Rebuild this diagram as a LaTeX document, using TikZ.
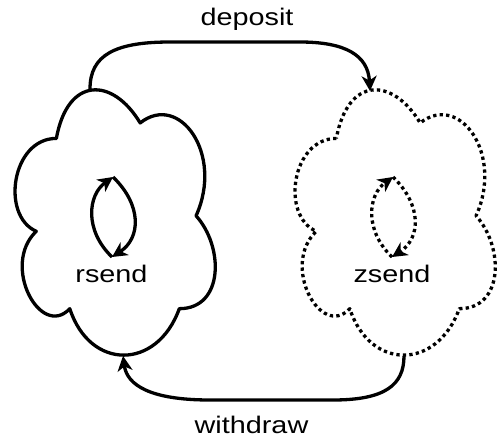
\documentclass[tikz,border=0pt]{standalone}
\usepackage{fontspec}
\setmainfont{Liberation Sans}
\usetikzlibrary{arrows.meta}
\tikzset{
  stroke/.style={line width=3.3pt, line join=round},
  dotline/.style={stroke, dash pattern=on 3.3pt off 3.2pt},
  tip/.style={-{Stealth[length=15pt,width=15pt,inset=4.5pt]}},
  lbl/.style={inner sep=0pt, anchor=base, font=\fontsize{24}{28}\selectfont},
  cloudbox/.style={x=223.5pt, y={(0pt,-309.6pt)}}
}
\newcommand\cloudshape{(0.25,0.25) .. controls (0.05,0.25) and (0,0.5) .. (0.16,0.55)
  .. controls (0,0.66) and (0.18,0.9) .. (0.31,0.8)
  .. controls (0.4,1) and (0.7,1) .. (0.8,0.8)
  .. controls (1,0.8) and (1,0.6) .. (0.875,0.5)
  .. controls (1,0.3) and (0.8,0.1) .. (0.625,0.2)
  .. controls (0.5,0.05) and (0.3,0.05) .. (0.25,0.25) -- cycle}
\begin{document}
\begin{tikzpicture}[x=1pt, y=-1pt]
\useasboundingbox (0,0) rectangle (504,445);
% clouds
\begin{scope}[shift={(0.5pt,-61pt)}, cloudbox]
  \draw[stroke] \cloudshape;
\end{scope}
\begin{scope}[shift={(280.5pt,-61pt)}, cloudbox]
  \draw[dotline] \cloudshape;
\end{scope}
% named points
\coordinate (rtop) at (90,89);
\coordinate (rbot) at (123,356);
\coordinate (ztop) at (370,91);
\coordinate (zbot) at (404,356);
\coordinate (rl1) at (112,257);
\coordinate (rl2) at (113,177);
\coordinate (zl1) at (392,257);
\coordinate (zl2) at (393,177);
% labels
\node[lbl] (deposit) at (247,25) {\scalebox{1.2}[1]{deposit}};
\node[lbl] (withdraw) at (251.5,433) {\scalebox{1.2}[1]{withdraw}};
\node[lbl] (rsend) at (111.5,282) {\scalebox{1.2}[1]{rsend}};
\node[lbl] (zsend) at (392,282) {\scalebox{1.2}[1]{zsend}};
% deposit / withdraw connectors
\draw[stroke, tip] (rtop) .. controls (90,55) and (115,42) .. (170,42)
  -- (300,42) .. controls (345,42) and (368,55) .. (ztop);
\draw[stroke, tip] (zbot) .. controls (404,385) and (385,400) .. (333,400)
  -- (210,400) .. controls (150,400) and (127,385) .. (rbot);
% inner loops
\draw[stroke, tip] (rl1) .. controls (84,230) and (88,195) .. (rl2);
\draw[stroke, tip] (rl2) .. controls (142,205) and (141,238) .. (rl1);
\draw[dotline, tip] (zl1) .. controls (364,230) and (368,195) .. (zl2);
\draw[dotline, tip] (zl2) .. controls (422,205) and (421,238) .. (zl1);
\end{tikzpicture}
\end{document}
